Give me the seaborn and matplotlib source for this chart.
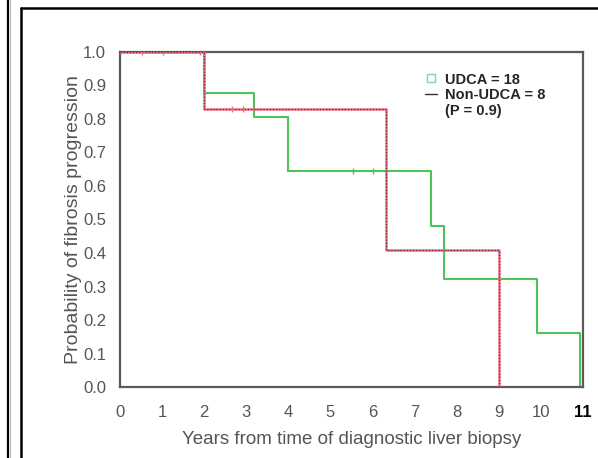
import numpy as np
import pandas as pd
import seaborn as sns
import matplotlib.pyplot as plt
from matplotlib.lines import Line2D

# Kaplan-Meier steps
udca_years = [0.0, 2.0, 3.18, 3.99, 7.4, 7.7, 9.9, 10.93]
udca_prob = [1.0, 0.878, 0.806, 0.645, 0.48, 0.322, 0.161, 0.0]
non_udca_years = [0.0, 2.0, 6.32, 9.0]
non_udca_prob = [1.0, 0.829, 0.409, 0.0]

# censor ticks
udca_cens_years = [1.03, 5.53, 6.0]
udca_cens_prob = [1.0, 0.645, 0.645]
non_cens_years = [0.52, 1.9, 2.65, 2.93]
non_cens_prob = [1.0, 1.0, 0.829, 0.829]

x_ticks = list(range(0, 12))
y_ticks = [0.0, 0.1, 0.2, 0.3, 0.4, 0.5, 0.6, 0.7, 0.8, 0.9, 1.0]

green = '#4cc45a'
red = '#ec7088'
grey = '#5a5a5a'

sns.set_style('white')
plt.rcParams['font.family'] = ['Liberation Sans', 'DejaVu Sans']

fig = plt.figure(figsize=(5.98, 4.58), dpi=100)
ax = fig.add_axes([0.2007, 0.155, 0.7742, 0.7315])

udca = pd.DataFrame({'years': udca_years, 'prob': udca_prob})
non = pd.DataFrame({'years': non_udca_years, 'prob': non_udca_prob})

sns.lineplot(data=non, x='years', y='prob', drawstyle='steps-post', color=red,
             lw=1.8, ax=ax, zorder=3)
sns.lineplot(data=non, x='years', y='prob', drawstyle='steps-post', color='#6a2a2a',
             lw=0.9, ls=(0, (1, 1.5)), ax=ax, zorder=4)
sns.lineplot(data=udca, x='years', y='prob', drawstyle='steps-post', color=green,
             lw=1.5, ax=ax, zorder=2)

ax.scatter(udca_cens_years, udca_cens_prob, marker='|', s=14, color=green, lw=1, zorder=5)
ax.scatter(non_cens_years, non_cens_prob, marker='|', s=14, color=red, lw=1, zorder=5)

ax.set_xlim(0, 11)
ax.set_ylim(0, 1)
ax.set_xticks(x_ticks)
ax.set_yticks(y_ticks)
ax.set_xticklabels([str(t) for t in x_ticks])
ax.set_yticklabels([f'{t:.1f}' for t in y_ticks])
ax.tick_params(axis='both', direction='out', length=7, width=1.5, color=grey,
               labelsize=12, labelcolor='#555555', pad=3)
ax.tick_params(axis='x', pad=6)
lbl = ax.get_xticklabels()[-1]
lbl.set_color('black')
lbl.set_fontweight('bold')
for s in ax.spines.values():
    s.set_visible(True)
    s.set_color(grey)
    s.set_linewidth(1.6)

ax.set_xlabel('Years from time of diagnostic liver biopsy', fontsize=13.5, color='#555555', labelpad=8)
ax.set_ylabel('Probability of fibrosis progression', fontsize=14, color='#555555', labelpad=1)

handles = [
    Line2D([], [], marker='s', ls='none', mfc='none', mec='#7fd89a', ms=6, mew=1),
    Line2D([], [], color='#333333', lw=1),
    Line2D([], [], color='none'),
]
ax.legend(handles, ['UDCA = 18', 'Non-UDCA = 8', '(P = 0.9)'], loc='upper left',
          bbox_to_anchor=(0.646, 0.956), frameon=False, handlelength=0.8,
          handletextpad=0.6, labelspacing=0.12, borderaxespad=0,
          prop={'size': 10.5, 'weight': 'bold'})

# outer frame lines
fig.add_artist(Line2D([0.0134, 0.0134], [0, 1], color='black', lw=1.6, transform=fig.transFigure))
fig.add_artist(Line2D([0.0160, 0.0160], [0, 1], color='#bbbbbb', lw=0.8, transform=fig.transFigure))
fig.add_artist(Line2D([0.0352, 0.0352], [0, 0.982], color='black', lw=1.8, transform=fig.transFigure))
fig.add_artist(Line2D([0.0352, 1.0], [0.9815, 0.9815], color='black', lw=1.8, transform=fig.transFigure))

fig.savefig('out.png', dpi=100)
